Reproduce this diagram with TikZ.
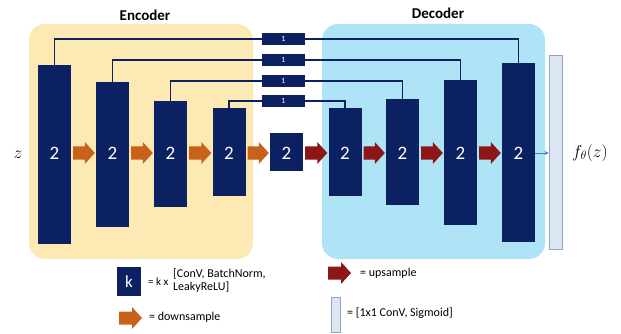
\documentclass[tikz,border=0pt]{standalone}
\usepackage{fontspec}
\setmainfont{Carlito}
\usetikzlibrary{calc,arrows.meta}
\definecolor{navy}{HTML}{0C2162}
\definecolor{encbg}{HTML}{FDE9B3}
\definecolor{decbg}{HTML}{AEE4F6}
\definecolor{downc}{HTML}{C8621A}
\definecolor{upc}{HTML}{8E1616}
\definecolor{outfill}{HTML}{DCE6F4}
\definecolor{outdraw}{HTML}{8FA6C2}
\definecolor{thinblue}{HTML}{4A7BD0}
\newcommand\blockarrow[3]{%
  \fill[#3] ($(#1.east |- mid)+(2,-6.5)$) -- ($(#2.west |- mid)+(-11,-6.5)$) -- ($(#2.west |- mid)+(-11,-11)$) -- ($(#2.west |- mid)+(-1,0)$) -- ($(#2.west |- mid)+(-11,11)$) -- ($(#2.west |- mid)+(-11,6.5)$) -- ($(#1.east |- mid)+(2,6.5)$) -- cycle;}
\begin{document}
\begin{tikzpicture}[x=1pt,y=-1pt,
  blk/.style={fill=navy, inner sep=0pt, minimum width=33pt},
  num/.style={text=white, font=\fontsize{19}{21}\selectfont},
  skipbox/.style={fill=navy, inner sep=0pt, minimum width=43pt, minimum height=12pt, text=white, font=\fontsize{8}{9}\selectfont},
  skipline/.style={draw=navy, line width=1.2pt},
  bg/.style={rounded corners=16pt},
  title/.style={font=\fontsize{15}{17}\selectfont\bfseries},
  legtext/.style={anchor=west, font=\fontsize{12}{13}\selectfont, inner sep=0pt}]
\useasboundingbox (0,0) rectangle (621,334);
% backgrounds
\fill[encbg, bg] (29,24) rectangle (253,259);
\fill[decbg, bg] (322,24) rectangle (545,259);
\node[title] (enc) at (145,15) {Encoder};
\node[title] (dec) at (438,13) {Decoder};
\coordinate (mid) at (0,153);
% blocks
\node[blk, minimum height=179pt] (E1) at (54.5,154.5) {};
\node[blk, minimum height=145pt] (E2) at (112.5,154.5) {};
\node[blk, minimum height=106pt] (E3) at (170.5,154) {};
\node[blk, minimum height=88pt] (E4) at (229,152) {};
\node[blk, minimum height=38pt] (B) at (286.5,152) {};
\node[blk, minimum height=88pt] (D1) at (345,152) {};
\node[blk, minimum height=106pt] (D2) at (402.5,152) {};
\node[blk, minimum height=145pt] (D3) at (460.5,152.5) {};
\node[blk, minimum height=179pt] (D4) at (518.5,152.5) {};
\foreach \b in {E1,E2,E3,E4,B,D1,D2,D3,D4}
  \node[num] (n\b) at (\b.center |- mid) {2};
% skip boxes
\node[skipbox] (S1) at (283.5,39) {1};
\node[skipbox] (S2) at (283.5,60) {1};
\node[skipbox] (S3) at (283.5,81) {1};
\node[skipbox] (S4) at (283.5,101) {1};
\draw[skipline] (E1.north) |- (S1.west);
\draw[skipline] (S1.east) -| (D4.north);
\draw[skipline] (E2.north) |- (S2.west);
\draw[skipline] (S2.east) -| (D3.north);
\draw[skipline] (E3.north) |- (S3.west);
\draw[skipline] (S3.east) -| (D2.north);
\draw[skipline] (E4.north) |- (S4.west);
\draw[skipline] (S4.east) -| (D1.north);
% arrows
\blockarrow{E1}{E2}{downc}
\blockarrow{E2}{E3}{downc}
\blockarrow{E3}{E4}{downc}
\blockarrow{E4}{B}{downc}
\blockarrow{B}{D1}{upc}
\blockarrow{D1}{D2}{upc}
\blockarrow{D2}{D3}{upc}
\blockarrow{D3}{D4}{upc}
% output
\node[fill=outfill, draw=outdraw, line width=0.8pt, inner sep=0pt, minimum width=13pt, minimum height=194pt] (O) at (555.5,152) {};
\draw[thinblue, line width=0.8pt, -{Stealth[length=4pt,width=4pt]}] (D4.east |- mid) -- (O.west |- mid);
\node[font=\fontsize{19}{21}\selectfont] (z) at (18,155) {$z$};
\node[font=\fontsize{17}{20}\selectfont, anchor=west, inner sep=0pt] (f) at (572,153) {$f_\theta(z)$};
% legend
\node[fill=navy, inner sep=0pt, minimum width=24pt, minimum height=29pt, text=white, font=\fontsize{17}{19}\selectfont] (K) at (129,281.5) {k};
\node[legtext, font=\fontsize{11}{12}\selectfont] (kx) at (148,282) {= k x};
\node[legtext, align=left] (kt) at (173,281) {[ConV, BatchNorm,\\LeakyReLU]};
\coordinate (dA) at (119,318);
\coordinate (dB) at (142,318);
\fill[downc] ($(dA)+(0,-6.5)$) -- ($(dB)+(-10,-6.5)$) -- ($(dB)+(-10,-11)$) -- (dB) -- ($(dB)+(-10,11)$) -- ($(dB)+(-10,6.5)$) -- ($(dA)+(0,6.5)$) -- cycle;
\node[legtext] (dt) at (149,317) {= downsample};
\coordinate (uA) at (328,273);
\coordinate (uB) at (351,273);
\fill[upc] ($(uA)+(0,-6.5)$) -- ($(uB)+(-10,-6.5)$) -- ($(uB)+(-10,-11)$) -- (uB) -- ($(uB)+(-10,11)$) -- ($(uB)+(-10,6.5)$) -- ($(uA)+(0,6.5)$) -- cycle;
\node[legtext] (ut) at (360,273) {= upsample};
\node[fill=outfill, draw=outdraw, line width=0.8pt, inner sep=0pt, minimum width=9pt, minimum height=35pt] (OL) at (335.5,314.5) {};
\node[legtext] (ot) at (347,313) {= [1x1 ConV, Sigmoid]};
\end{tikzpicture}
\end{document}
